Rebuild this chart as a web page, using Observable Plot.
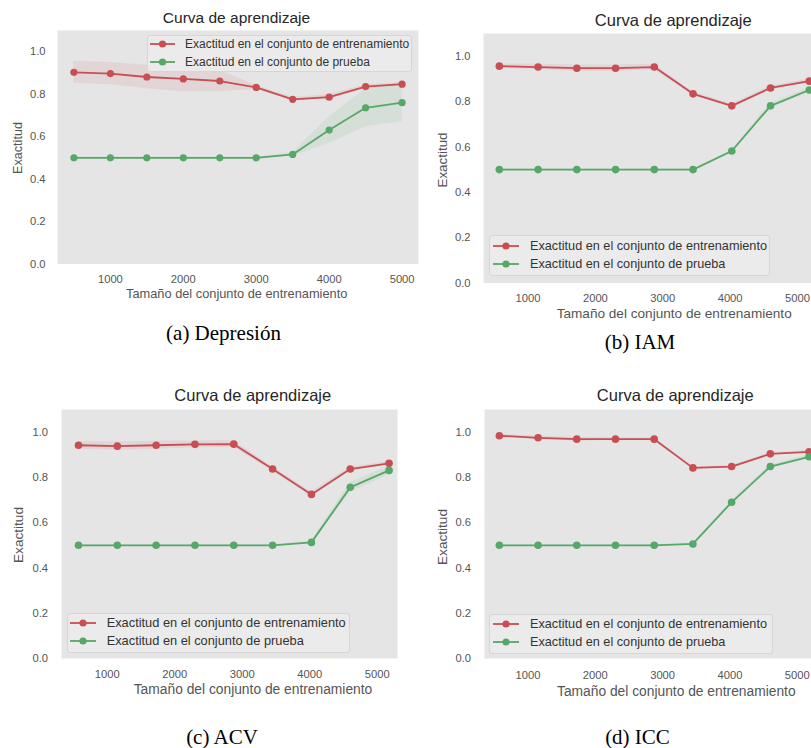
<!DOCTYPE html>
<html><head><meta charset="utf-8">
<script src="https://cdn.jsdelivr.net/npm/d3@7"></script>
<script src="https://cdn.jsdelivr.net/npm/@observablehq/plot@0.6"></script>
<style>
body{margin:0;background:#fff;}
#root{position:relative;width:811px;height:748px;overflow:hidden;font-family:"Liberation Sans",Arial,sans-serif;}
.abs{position:absolute;white-space:nowrap;line-height:1;}
.ctr{transform:translate(-50%,-50%);}
.rot{transform:translate(-50%,-50%) rotate(-90deg);}
.title{color:#262626;}
.lab{color:#555;}
.cap{font-family:"Liberation Serif","Times New Roman",serif;color:#000;}
.legend{position:absolute;background:rgba(236,236,236,0.85);border:1px solid #d6d6d6;border-radius:3px;box-sizing:border-box;}
.legrow{position:absolute;display:flex;align-items:center;color:#333;white-space:nowrap;line-height:1;}
.panelsvg{position:absolute;}
</style></head><body><div id="root"></div>
<script>
// ---------- data ----------
const sizesDep = [500, 1000, 1500, 2000, 2500, 3000, 3500, 4000, 4500, 5000];
const trainDep = [0.903, 0.897, 0.881, 0.872, 0.862, 0.832, 0.776, 0.786, 0.836, 0.847];
const testDep  = [0.500, 0.500, 0.500, 0.500, 0.500, 0.500, 0.516, 0.631, 0.736, 0.760];
const trainStdDep = [0.052, 0.052, 0.055, 0.060, 0.050, 0.010, 0.008, 0.012, 0.008, 0.008];
const testStdDep  = [0.004, 0.004, 0.004, 0.004, 0.004, 0.004, 0.008, 0.063, 0.090, 0.090];

const sizesIAM = [575, 1150, 1725, 2300, 2875, 3450, 4025, 4600, 5175];
const trainIAM = [0.956, 0.952, 0.947, 0.947, 0.952, 0.834, 0.781, 0.860, 0.890];
const testIAM  = [0.500, 0.500, 0.500, 0.500, 0.500, 0.500, 0.582, 0.781, 0.851];
const trainStdIAM = [0.010, 0.012, 0.014, 0.014, 0.012, 0.008, 0.008, 0.008, 0.008];
const testStdIAM  = [0.003, 0.003, 0.003, 0.003, 0.003, 0.003, 0.006, 0.012, 0.010];

const sizesACV = [575, 1150, 1725, 2300, 2875, 3450, 4025, 4600, 5175];
const trainACV = [0.942, 0.938, 0.942, 0.946, 0.947, 0.837, 0.725, 0.837, 0.862];
const testACV  = [0.500, 0.500, 0.500, 0.500, 0.500, 0.500, 0.513, 0.756, 0.831];
const trainStdACV = [0.016, 0.018, 0.018, 0.015, 0.015, 0.010, 0.010, 0.008, 0.008];
const testStdACV  = [0.003, 0.003, 0.003, 0.003, 0.003, 0.003, 0.006, 0.022, 0.020];

const sizesICC = [575, 1150, 1725, 2300, 2875, 3450, 4025, 4600, 5175];
const trainICC = [0.984, 0.975, 0.969, 0.969, 0.969, 0.842, 0.848, 0.904, 0.913];
const testICC  = [0.500, 0.500, 0.500, 0.500, 0.500, 0.506, 0.690, 0.848, 0.891];
const trainStdICC = [0.005, 0.008, 0.008, 0.006, 0.006, 0.005, 0.005, 0.005, 0.005];
const testStdICC  = [0.003, 0.003, 0.003, 0.003, 0.003, 0.003, 0.008, 0.008, 0.008];

const xTicks = [1000, 2000, 3000, 4000, 5000];
const yTicks = [0.0, 0.2, 0.4, 0.6, 0.8, 1.0];
const titleText = "Curva de aprendizaje";
const xLabelText = "Tamaño del conjunto de entrenamiento";
const yLabelText = "Exactitud";
const seriesNames = ["Exactitud en el conjunto de entrenamiento", "Exactitud en el conjunto de prueba"];
const captions = ["(a) Depresión", "(b) IAM", "(c) ACV", "(d) ICC"];

// ---------- style ----------
const RED = "#C94E54";
const GREEN = "#55A868";
const BG = "#e5e5e5";

// ---------- layout ----------
const panels = [
  {sizes: sizesDep, train: trainDep, test: testDep, trainStd: trainStdDep, testStd: testStdDep, caption: captions[0],
   left: 0, top: 0, w: 420, h: 300, mL: 57, mR: 2, mT: 30, mB: 36.5, xDomain: [275, 5225], xPad: 11, yPad: 12, r: 3.6,
   titlePos: [236.5, 17.5, 15.5], xlabPos: [236.7, 293.5, 12.8], ylabPos: [18.3, 148, 12.6], capPos: [223.5, 333],
   legend: {x: 147, y: 35, w: 265, h: 37, lineX: 150, lineW: 25, textX: 185, rows: [44.3, 62.3], fs: 12}},
  {sizes: sizesIAM, train: trainIAM, test: testIAM, trainStd: trainStdIAM, testStd: testStdIAM, caption: captions[1],
   left: 420, top: 0, w: 391, h: 320, mL: 63, mR: 0, mT: 33, mB: 37.5, xDomain: [339.5, 5208], xPad: 11.5, yPad: 13, r: 3.8,
   titlePos: [673.3, 20, 16.5], xlabPos: [674.2, 313.5, 13.6], ylabPos: [442.7, 160, 13.4], capPos: [640, 342],
   legend: {x: 489, y: 235, w: 281, h: 41, lineX: 493, lineW: 26, textX: 530, rows: [245.7, 264.2], fs: 12.7}},
  {sizes: sizesACV, train: trainACV, test: testACV, trainStd: trainStdACV, testStd: testStdACV, caption: captions[2],
   left: 0, top: 370, w: 420, h: 330, mL: 61, mR: 23, mT: 39, mB: 42, xDomain: [323, 5300], xPad: 12, yPad: 13.5, r: 3.8,
   titlePos: [252.8, 395, 16.5], xlabPos: [253, 690, 13.8], ylabPos: [19, 535, 13.6], capPos: [222, 736.7],
   legend: {x: 66.7, y: 612.7, w: 283.5, h: 40.5, lineX: 70, lineW: 26, textX: 106.7, rows: [622.7, 640.9], fs: 12.8}},
  {sizes: sizesICC, train: trainICC, test: testICC, trainStd: trainStdICC, testStd: testStdICC, caption: captions[3],
   left: 420, top: 370, w: 391, h: 330, mL: 64, mR: 0, mT: 39, mB: 42, xDomain: [354, 5212], xPad: 12.5, yPad: 13.5, r: 3.8,
   titlePos: [675.3, 395, 16.5], xlabPos: [676.3, 691.7, 13.8], ylabPos: [442.7, 536.7, 13.6], capPos: [637.5, 736.7],
   legend: {x: 489.3, y: 614, w: 284, h: 39.5, lineX: 493.3, lineW: 26, textX: 530, rows: [624, 642.3], fs: 12.7}}
];

const root = document.getElementById("root");

function addText(txt, x, y, fs, cls, rot) {
  const d = document.createElement("div");
  d.className = "abs " + cls + (rot ? " rot" : " ctr");
  d.style.left = x + "px";
  d.style.top = y + "px";
  d.style.fontSize = fs + "px";
  d.textContent = txt;
  root.appendChild(d);
}

function addLegend(L) {
  const box = document.createElement("div");
  box.className = "legend";
  box.style.left = L.x + "px"; box.style.top = L.y + "px";
  box.style.width = L.w + "px"; box.style.height = L.h + "px";
  root.appendChild(box);
  [RED, GREEN].forEach((col, i) => {
    const ns = "http://www.w3.org/2000/svg";
    const s = document.createElementNS(ns, "svg");
    s.setAttribute("width", L.lineW); s.setAttribute("height", 10);
    s.style.position = "absolute";
    s.style.left = L.lineX + "px"; s.style.top = (L.rows[i] - 5) + "px";
    const ln = document.createElementNS(ns, "line");
    ln.setAttribute("x1", 0); ln.setAttribute("x2", L.lineW); ln.setAttribute("y1", 5); ln.setAttribute("y2", 5);
    ln.setAttribute("stroke", col); ln.setAttribute("stroke-width", 1.8);
    const c = document.createElementNS(ns, "circle");
    c.setAttribute("cx", L.lineW / 2); c.setAttribute("cy", 5); c.setAttribute("r", 3.6); c.setAttribute("fill", col);
    s.appendChild(ln); s.appendChild(c);
    root.appendChild(s);
    const t = document.createElement("div");
    t.className = "abs";
    t.style.left = L.textX + "px"; t.style.top = L.rows[i] + "px";
    t.style.transform = "translateY(-50%)";
    t.style.fontSize = L.fs + "px";
    t.style.color = "#333";
    t.textContent = seriesNames[i];
    root.appendChild(t);
  });
}

panels.forEach(p => {
  const rows = p.sizes.map((s, i) => ({
    s, train: p.train[i], test: p.test[i],
    trLo: p.train[i] - p.trainStd[i], trHi: p.train[i] + p.trainStd[i],
    teLo: p.test[i] - p.testStd[i], teHi: p.test[i] + p.testStd[i]
  }));
  const svg = Plot.plot({
    width: p.w, height: p.h,
    marginLeft: p.mL, marginRight: p.mR, marginTop: p.mT, marginBottom: p.mB,
    style: {fontFamily: '"Liberation Sans", Arial, sans-serif', fontSize: "11.2px", color: "#555", background: "transparent", overflow: "visible"},
    x: {domain: p.xDomain, ticks: xTicks, tickFormat: "d", tickSize: 0, tickPadding: p.xPad, label: null},
    y: {domain: [0, 1.1], ticks: yTicks, tickFormat: ".1f", tickSize: 0, tickPadding: p.yPad, label: null},
    marks: [
      Plot.frame({fill: BG, stroke: "none"}),
      Plot.areaY(rows, {x: "s", y1: "trLo", y2: "trHi", fill: RED, fillOpacity: 0.1}),
      Plot.areaY(rows, {x: "s", y1: "teLo", y2: "teHi", fill: GREEN, fillOpacity: 0.1}),
      Plot.line(rows, {x: "s", y: "train", stroke: RED, strokeWidth: 1.8}),
      Plot.dot(rows, {x: "s", y: "train", fill: RED, r: p.r}),
      Plot.line(rows, {x: "s", y: "test", stroke: GREEN, strokeWidth: 1.8}),
      Plot.dot(rows, {x: "s", y: "test", fill: GREEN, r: p.r})
    ]
  });
  svg.classList.add("panelsvg");
  svg.style.left = p.left + "px";
  svg.style.top = p.top + "px";
  svg.style.overflow = "hidden";
  root.appendChild(svg);
  addText(titleText, p.titlePos[0], p.titlePos[1], p.titlePos[2], "title");
  addText(xLabelText, p.xlabPos[0], p.xlabPos[1], p.xlabPos[2], "lab");
  addText(yLabelText, p.ylabPos[0], p.ylabPos[1], p.ylabPos[2], "lab", true);
  addText(p.caption, p.capPos[0], p.capPos[1], 21, "cap");
  addLegend(p.legend);
});
</script></body></html>
